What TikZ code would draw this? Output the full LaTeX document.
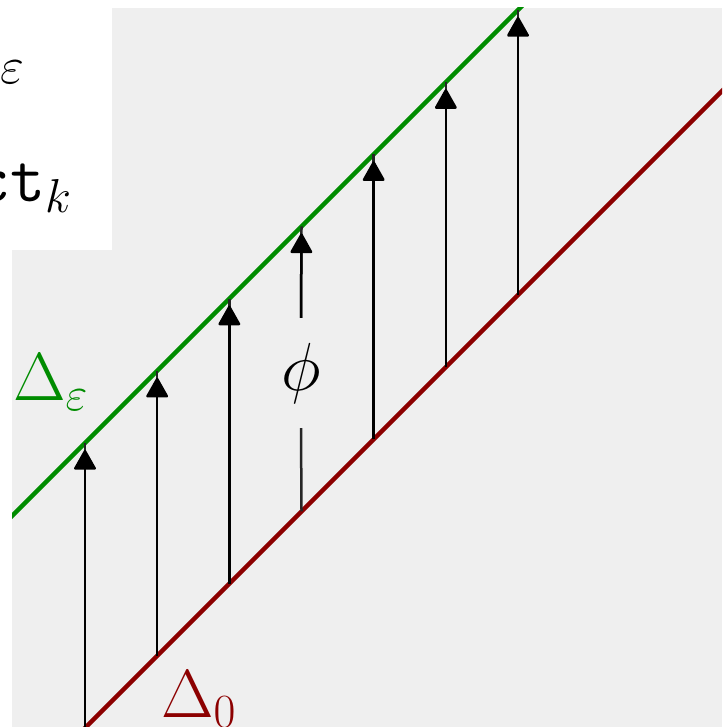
\documentclass[tikz,border=0pt]{standalone}
\usepackage{fix-cm}
\usetikzlibrary{arrows.meta}
\definecolor{bggrey}{RGB}{239,239,239}
\definecolor{epsgreen}{RGB}{0,140,0}
\definecolor{zerored}{RGB}{140,0,0}
\tikzset{
  big/.style={font=\fontsize{68}{80}\selectfont},
  vline/.style={line width=2.5pt, draw=black!85},
  vtip/.style={vline, -{Triangle[length=21pt,width=23pt,round,fill=black]}, shorten >=7pt},
  lvl/.style={line width=4.5pt, line cap=butt},
}
\begin{document}
\begin{tikzpicture}[x=1pt,y=-1pt]
\useasboundingbox (0,0) rectangle (722,727);
\fill[bggrey] (12,8) rectangle (722,727);
\begin{scope}
\clip (12,8) rectangle (722,727);
% level lines
\coordinate (gA) at (0,528);
\coordinate (gB) at (540,-12);
\coordinate (rA) at (60,753);
\coordinate (rB) at (760,53);
\draw[lvl, epsgreen] (gA) -- (gB);
\draw[lvl, zerored] (rA) -- (rB);
% arrows
\foreach \i in {0,...,6}{
  \pgfmathsetmacro{\xx}{85+72.17*\i}
  \coordinate (r\i) at (\xx,813-\xx);
  \coordinate (g\i) at (\xx,528-\xx);
}
\node[big, minimum height=110pt, inner sep=0pt] (phi) at (301,373) {$\phi$};
\foreach \i in {0,1,2,4,5,6}{
  \draw[vline] (r\i) -- (g\i);
  \draw[vtip, draw=black] (r\i) -- (g\i);
}
\draw[vline] (r3) -- (phi.south);
\draw[vline] (phi.north) -- (g3);
\draw[vtip, draw=black] (phi.north) -- (g3);
\end{scope}
% labels
\node[big, text=epsgreen, anchor=base west, inner sep=0pt] (le) at (13,400) {$\Delta_\varepsilon$};
\node[big, text=zerored, anchor=base west, inner sep=0pt] (lz) at (161,717) {$\Delta_0$};
% white text box at top left
\fill[white] (0,0) rectangle (112,250);
\begin{scope}
\clip (0,0) rectangle (112,250);
\node[font=\fontsize{52}{62}\selectfont, anchor=base west, inner sep=0pt] (eps) at (0,84) {$\varepsilon$};
\node[big, anchor=base west, inner sep=0pt] (ctk) at (-25,202) {$\texttt{ct}_k$};
\end{scope}
\end{tikzpicture}
\end{document}
